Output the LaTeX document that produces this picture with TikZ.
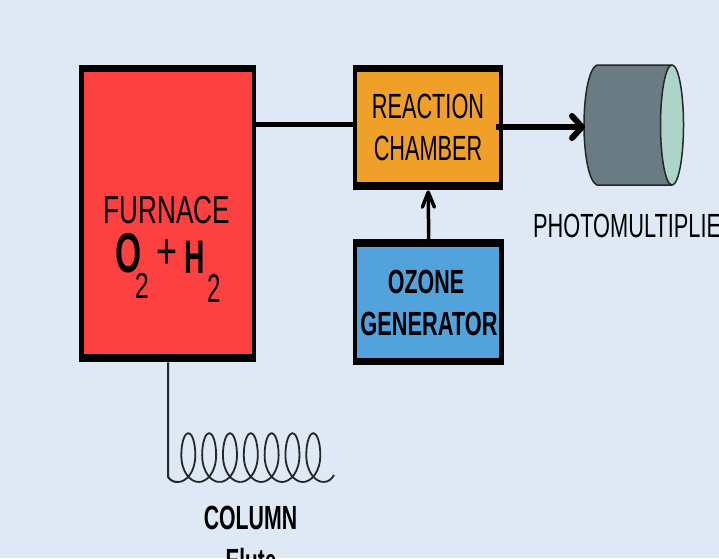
\documentclass[tikz,border=0pt]{standalone}
\usepackage{fontspec}
\setsansfont{Liberation Sans}
\usetikzlibrary{arrows.meta}
\definecolor{nenxanh}{RGB}{222,233,245}
\definecolor{furnacered}{RGB}{253,64,64}
\definecolor{chamberorange}{RGB}{240,160,40}
\definecolor{ozoneblue}{RGB}{82,163,220}
\definecolor{tubegrey}{RGB}{107,123,132}
\definecolor{tubeface}{RGB}{174,212,202}
\tikzset{
    outerbox/.style={fill=black,inner sep=0pt,anchor=north west},
    innerbox/.style={inner sep=0pt,anchor=north west},
    lbl/.style={inner sep=0pt,anchor=base,font=\sffamily,text=black,xscale=#1},
    lbl/.default=0.62
}
\newcommand{\fsz}[1]{\fontsize{#1}{#1}\selectfont}
\begin{document}
\begin{tikzpicture}[x=1pt,y=-1pt,line join=round]
    \useasboundingbox (0,0) rectangle (719,558);
    \clip (0,0) rectangle (719,558);
    \fill[nenxanh] (0,0) rectangle (719,558);
    \tikzset{coil_loop/.pic={
            \draw[line width=1.8pt,black!85] (-10.4,0)
            ..controls (-2,0) and (7,-10)..(7,-27)
            ..controls (7,-40) and (3.5,-49)..(0,-49)
            ..controls (-3.5,-49) and (-7,-40)..(-7,-27)
            ..controls (-7,-10) and (2,0)..(10.4,0);
    }}
    % boxes
    \node[outerbox,minimum width=177pt,minimum height=297pt] (furnace) at (79,65) {};
    \node[innerbox,fill=furnacered,minimum width=168pt,minimum height=282pt] (furnacein) at (84,72) {};
    \node[outerbox,minimum width=150pt,minimum height=125pt] (reaction) at (353,65) {};
    \node[innerbox,fill=chamberorange,minimum width=142pt,minimum height=110pt] (reactionin) at (357,72) {};
    \node[outerbox,minimum width=151pt,minimum height=126pt] (ozone) at (353,239) {};
    \node[innerbox,fill=ozoneblue,minimum width=142pt,minimum height=111pt] (ozonein) at (357,247) {};
    % texts
    \node[lbl=0.67] (tfurnace) at (167,223) {\fsz{39}FURNACE};
    \node[lbl=0.6] (tO) at (129,272) {\fsz{56}\bfseries O};
    \node[lbl=0.7] (ttwoa) at (142,298) {\fsz{36}2};
    \node[lbl=0.72] (tplus) at (167,268.5) {\fsz{50}+};
    \node[lbl=0.6] (tH) at (195,273) {\fsz{47}\bfseries H};
    \node[lbl=0.6] (ttwob) at (214,302) {\fsz{40}2};
    \node[lbl] (treaction) at (428,118) {\fsz{35}REACTION};
    \node[lbl] (tchamber) at (428,160) {\fsz{35}CHAMBER};
    \node[lbl=0.64] (tozone) at (426,293) {\fsz{33.5}\bfseries OZONE};
    \node[lbl=0.65] (tgenerator) at (429,335) {\fsz{33.5}\bfseries GENERATOR};
    \node[lbl=0.65,anchor=base west] (tphoto) at (533,237) {\fsz{33.5}PHOTOMULTIPLIER};
    \node[lbl=0.635] (tcolumn) at (250.5,529) {\fsz{33.5}\bfseries COLUMN};
    \node[lbl] (telute) at (251,572) {\fsz{33.5}\bfseries Elute};
    % photomultiplier
    \fill[tubegrey,draw=black!85,line width=1.5pt] (672,65)--(597,65)
    ..controls (589,68) and (584,95)..(584,125)
    ..controls (584,155) and (589,182)..(597,185)--(672,185)--cycle;
    \draw[fill=tubeface,draw=black!85,line width=1.5pt] (672,125) ellipse [x radius=11.5,y radius=60];
    \coordinate (tube) at (585,127);
    \coordinate (coilstart) at (furnace.south -| 168,0);
    % connectors
    \draw[line width=5pt] ([yshift=3.5pt]reaction.west) -- ([yshift=3.5pt]reaction.west -| furnace.east);
    \draw[line width=6pt,-{Straight Barb[length=10pt,width=22pt,round]}] ([xshift=-7pt]reaction.east |- tube) -- (tube);
    \draw[line width=3.5pt,-{Straight Barb[length=15pt,width=12pt,round]}] (ozone.north) -- (reaction.south);
    % column
    \draw[line width=2pt,black!85] (coilstart) -- (168,477)
    ..controls (171,481) and (174,482)..(177.9,482);
    \foreach \k in {0,...,6}
        \path (188.3+\k*20.83,482) pic{coil_loop};
    \draw[line width=1.8pt,black!85] (323.7,482)..controls (328,482) and (332,479)..(334,475);
\end{tikzpicture}
\end{document}
